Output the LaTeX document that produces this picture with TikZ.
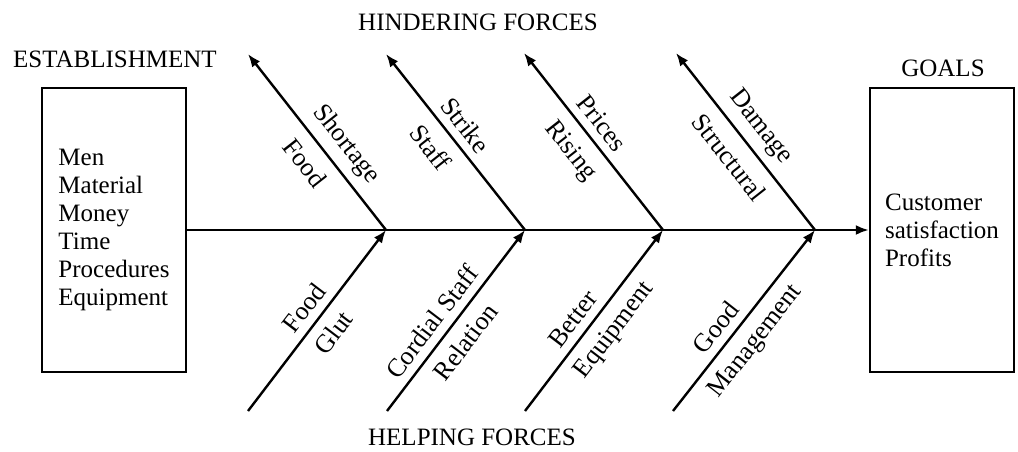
\documentclass[tikz,border=0pt]{standalone}
\usepackage{fontspec}
\setmainfont{Liberation Serif}
\usetikzlibrary{arrows.meta,positioning}

\begin{document}
\begin{tikzpicture}[x=0.5pt,y=-0.5pt,font=\fontsize{12.5}{14}\selectfont,>={Latex[length=6.5pt,width=5pt]},
 side/.style={draw,line width=1.2pt,minimum width=72pt,minimum height=142pt,align=left},
 bone/.style={line width=1.2pt},
 lbl/.style={sloped,inner sep=1pt,font=\fontsize{13}{15}\selectfont}]
\useasboundingbox (0,0) rectangle (1018,451);
\node (esttitle) at (115,59) {ESTABLISHMENT};
\node (goaltitle) at (943,68) {GOALS};
\node (hinder) at (478,22) {HINDERING FORCES};
\node (help) at (472,437) {HELPING FORCES};
\node[side] (est) at (114,230) {Men\\Material\\Money\\Time\\Procedures\\Equipment};
\node[side] (goal) at (942,230) {Customer\\satisfaction\\Profits};
\draw[bone,->] (est.east) -- (goal.west);
% junctions on the spine
\coordinate (j1) at (386,230);
\coordinate (j2) at (525,230);
\coordinate (j3) at (663,230);
\coordinate (j4) at (815,230);
% hindering forces
\coordinate (t1) at (248,54);
\coordinate (t2) at (386,54);
\coordinate (t3) at (524,53);
\coordinate (t4) at (676,53);
\draw[bone,<-] (t1) -- node[lbl,pos=.54,below=5pt] {Food} node[lbl,pos=.59,above=3pt] {Shortage} (j1);
\draw[bone,<-] (t2) -- node[lbl,pos=.45,below=5pt] {Staff} node[lbl,pos=.47,above=3pt] {Strike} (j2);
\draw[bone,<-] (t3) -- node[lbl,pos=.47,below=5pt] {Rising} node[lbl,pos=.46,above=3pt] {Prices} (j3);
\draw[bone,<-] (t4) -- node[lbl,pos=.51,below=5pt] {Structural} node[lbl,pos=.49,above=3pt] {Damage} (j4);
% helping forces
\coordinate (p1) at (248,411);
\coordinate (p2) at (387,411);
\coordinate (p3) at (525,411);
\coordinate (p4) at (673,411);
\draw[bone,->] (p1) -- node[lbl,pos=.51,above=3pt] {Food} node[lbl,pos=.50,below=4pt] {Glut} (j1);
\draw[bone,->] (p2) -- node[lbl,pos=.43,above=3pt] {Cordial Staff} node[lbl,pos=.45,below=4pt] {Relation} (j2);
\draw[bone,->] (p3) -- node[lbl,pos=.45,above=3pt] {Better} node[lbl,pos=.52,below=4pt] {Equipment} (j3);
\draw[bone,->] (p4) -- node[lbl,pos=.40,above=3pt] {Good} node[lbl,pos=.46,below=4pt] {Management} (j4);
\end{tikzpicture}
\end{document}
